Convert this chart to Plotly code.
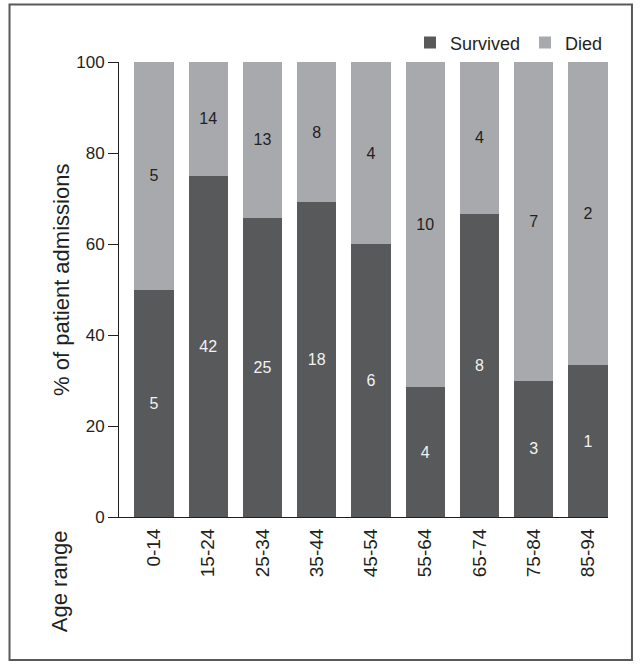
import plotly.graph_objects as go

age_ranges = ["0-14", "15-24", "25-34", "35-44", "45-54", "55-64", "65-74", "75-84", "85-94"]
survived = [5, 42, 25, 18, 6, 4, 8, 3, 1]
died = [5, 14, 13, 8, 4, 10, 4, 7, 2]
y_ticks = [0, 20, 40, 60, 80, 100]

totals = [s + d for s, d in zip(survived, died)]
surv_pct = [100 * s / t for s, t in zip(survived, totals)]
died_pct = [100 * d / t for d, t in zip(died, totals)]

FONT = "Liberation Sans, Arial, Helvetica, sans-serif"
TXT = "#231f20"
C_SURV = "#58595b"
C_DIED = "#a7a9ac"

fig = go.Figure()
fig.add_trace(go.Bar(
    x=age_ranges, y=surv_pct, name="Survived",
    marker=dict(color=C_SURV, line=dict(width=0)),
    text=[str(v) for v in survived], textposition="inside",
    insidetextanchor="middle",
    textfont=dict(family=FONT, size=16, color="#f2f2f2"),
    hoverinfo="skip",
))
fig.add_trace(go.Bar(
    x=age_ranges, y=died_pct, name="Died",
    marker=dict(color=C_DIED, line=dict(width=0)),
    text=[str(v) for v in died], textposition="inside",
    insidetextanchor="middle",
    textfont=dict(family=FONT, size=16, color=TXT),
    hoverinfo="skip",
))

fig.update_layout(
    barmode="stack",
    bargap=0.274,
    width=642, height=668,
    margin=dict(l=119, r=34, t=62, b=151, autoexpand=False),
    paper_bgcolor="white", plot_bgcolor="white",
    font=dict(family=FONT, color=TXT),
    showlegend=True,
    legend=dict(
        orientation="h", x=1.0, xanchor="right", y=1.042, yanchor="middle",
        font=dict(family=FONT, size=18, color=TXT),
        bgcolor="rgba(0,0,0,0)", traceorder="normal",
        itemwidth=30,
    ),
    xaxis=dict(
        range=[-0.645, 8.37],
        showline=True, linecolor=TXT, linewidth=1,
        ticks="", tickangle=-90,
        tickfont=dict(family=FONT, size=19, color=TXT),
        showgrid=False, zeroline=False,
        ticklabelstandoff=3,
    ),
    yaxis=dict(
        range=[0, 100],
        tickvals=y_ticks,
        showline=True, linecolor=TXT, linewidth=1,
        ticks="outside", ticklen=10, tickcolor=TXT, tickwidth=1,
        tickfont=dict(family=FONT, size=17, color=TXT),
        showgrid=False, zeroline=False,
    ),
    annotations=[
        dict(
            text="% of patient admissions", xref="paper", yref="paper",
            x=-0.1166, y=0.521, xanchor="center", yanchor="middle",
            textangle=-90, showarrow=False,
            font=dict(family=FONT, size=22, color=TXT),
        ),
        dict(
            text="Age range", xref="paper", yref="paper",
            x=-0.1227, y=-0.141, xanchor="center", yanchor="middle",
            textangle=-90, showarrow=False,
            font=dict(family=FONT, size=22, color=TXT),
        ),
    ],
    shapes=[dict(
        type="rect", xref="paper", yref="paper",
        x0=-0.2239, x1=1.049, y0=-0.3143, y1=1.1264,
        line=dict(color="#58595b", width=2), fillcolor="rgba(0,0,0,0)",
        layer="below",
    )],
)

fig.write_html("out.html", config={"displayModeBar": False},
               post_script="document.body.style.margin='0';")
